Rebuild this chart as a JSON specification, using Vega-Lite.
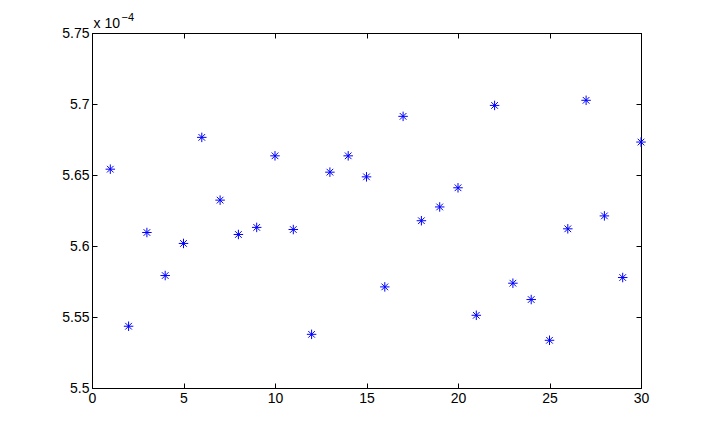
{
  "$schema": "https://vega.github.io/schema/vega-lite/v6.json",
  "autosize": "none",
  "width": 549,
  "height": 355,
  "padding": {"left": 92, "top": 33, "right": 67, "bottom": 48},
  "background": "white",
  "config": {
    "view": {"stroke": "black", "strokeWidth": 1},
    "font": "Liberation Sans",
    "axis": {
      "domainColor": "black",
      "tickColor": "black",
      "labelColor": "black",
      "labelFontSize": 14,
      "labelFont": "Liberation Sans",
      "labelFlush": false,
      "grid": false,
      "tickSize": -5,
      "titleFont": "Liberation Sans",
      "titleColor": "black"
    }
  },
  "data": {
    "values": [
      {"n": 1, "v": 0.00056541},
      {"n": 2, "v": 0.00055435},
      {"n": 3, "v": 0.00056095},
      {"n": 4, "v": 0.00055792},
      {"n": 5, "v": 0.00056018},
      {"n": 6, "v": 0.00056765},
      {"n": 7, "v": 0.00056323},
      {"n": 8, "v": 0.00056081},
      {"n": 9, "v": 0.00056131},
      {"n": 10, "v": 0.00056635},
      {"n": 11, "v": 0.00056116},
      {"n": 12, "v": 0.00055378},
      {"n": 13, "v": 0.0005652},
      {"n": 14, "v": 0.00056635},
      {"n": 15, "v": 0.00056487},
      {"n": 16, "v": 0.00055712},
      {"n": 17, "v": 0.00056913},
      {"n": 18, "v": 0.00056178},
      {"n": 19, "v": 0.00056275},
      {"n": 20, "v": 0.0005641},
      {"n": 21, "v": 0.00055512},
      {"n": 22, "v": 0.0005699},
      {"n": 23, "v": 0.00055738},
      {"n": 24, "v": 0.00055623},
      {"n": 25, "v": 0.00055336},
      {"n": 26, "v": 0.00056121},
      {"n": 27, "v": 0.00057026},
      {"n": 28, "v": 0.00056212},
      {"n": 29, "v": 0.00055778},
      {"n": 30, "v": 0.00056732}
    ]
  },
  "layer": [
    {
      "mark": {
        "type": "point",
        "shape": "M0,-1L0,1M-1,0L1,0M-0.7,-0.7L0.7,0.7M-0.7,0.7L0.7,-0.7",
        "filled": false,
        "stroke": "#0000ff",
        "strokeWidth": 1,
        "size": 90,
        "opacity": 1
      },
      "encoding": {
        "x": {
          "field": "n",
          "type": "quantitative",
          "scale": {"domain": [0, 30], "nice": false, "zero": false},
          "axis": {
            "orient": "bottom",
            "title": null,
            "values": [0, 5, 10, 15, 20, 25, 30],
            "labelPadding": 8,
            "domain": true
          }
        },
        "y": {
          "field": "v",
          "type": "quantitative",
          "scale": {"domain": [0.00055, 0.000575], "nice": false, "zero": false},
          "axis": {
            "orient": "left",
            "values": [0.00055, 0.000555, 0.00056, 0.000565, 0.00057, 0.000575],
            "labelExpr": "format(datum.value * 10000, '.2~f')",
            "labelPadding": 8,
            "title": "x 10",
            "titleAngle": 0,
            "titleAlign": "left",
            "titleBaseline": "alphabetic",
            "titleX": 1,
            "titleY": -6,
            "titleFontSize": 14,
            "titleFontWeight": "normal"
          }
        }
      }
    },
    {
      "mark": {"type": "point", "opacity": 0},
      "encoding": {
        "x": {
          "field": "n",
          "type": "quantitative",
          "axis": {
            "orient": "top",
            "labels": false,
            "values": [0, 5, 10, 15, 20, 25, 30],
            "title": "−4",
            "titleAnchor": null,
            "titleAlign": "left",
            "titleBaseline": "alphabetic",
            "titleX": 29,
            "titleY": -13,
            "titleFontSize": 11,
            "titleFontWeight": "normal"
          }
        },
        "y": {
          "field": "v",
          "type": "quantitative",
          "axis": {
            "orient": "right",
            "title": null,
            "labels": false,
            "values": [0.00055, 0.000555, 0.00056, 0.000565, 0.00057, 0.000575]
          }
        }
      }
    }
  ],
  "resolve": {"axis": {"x": "independent", "y": "independent"}}
}
